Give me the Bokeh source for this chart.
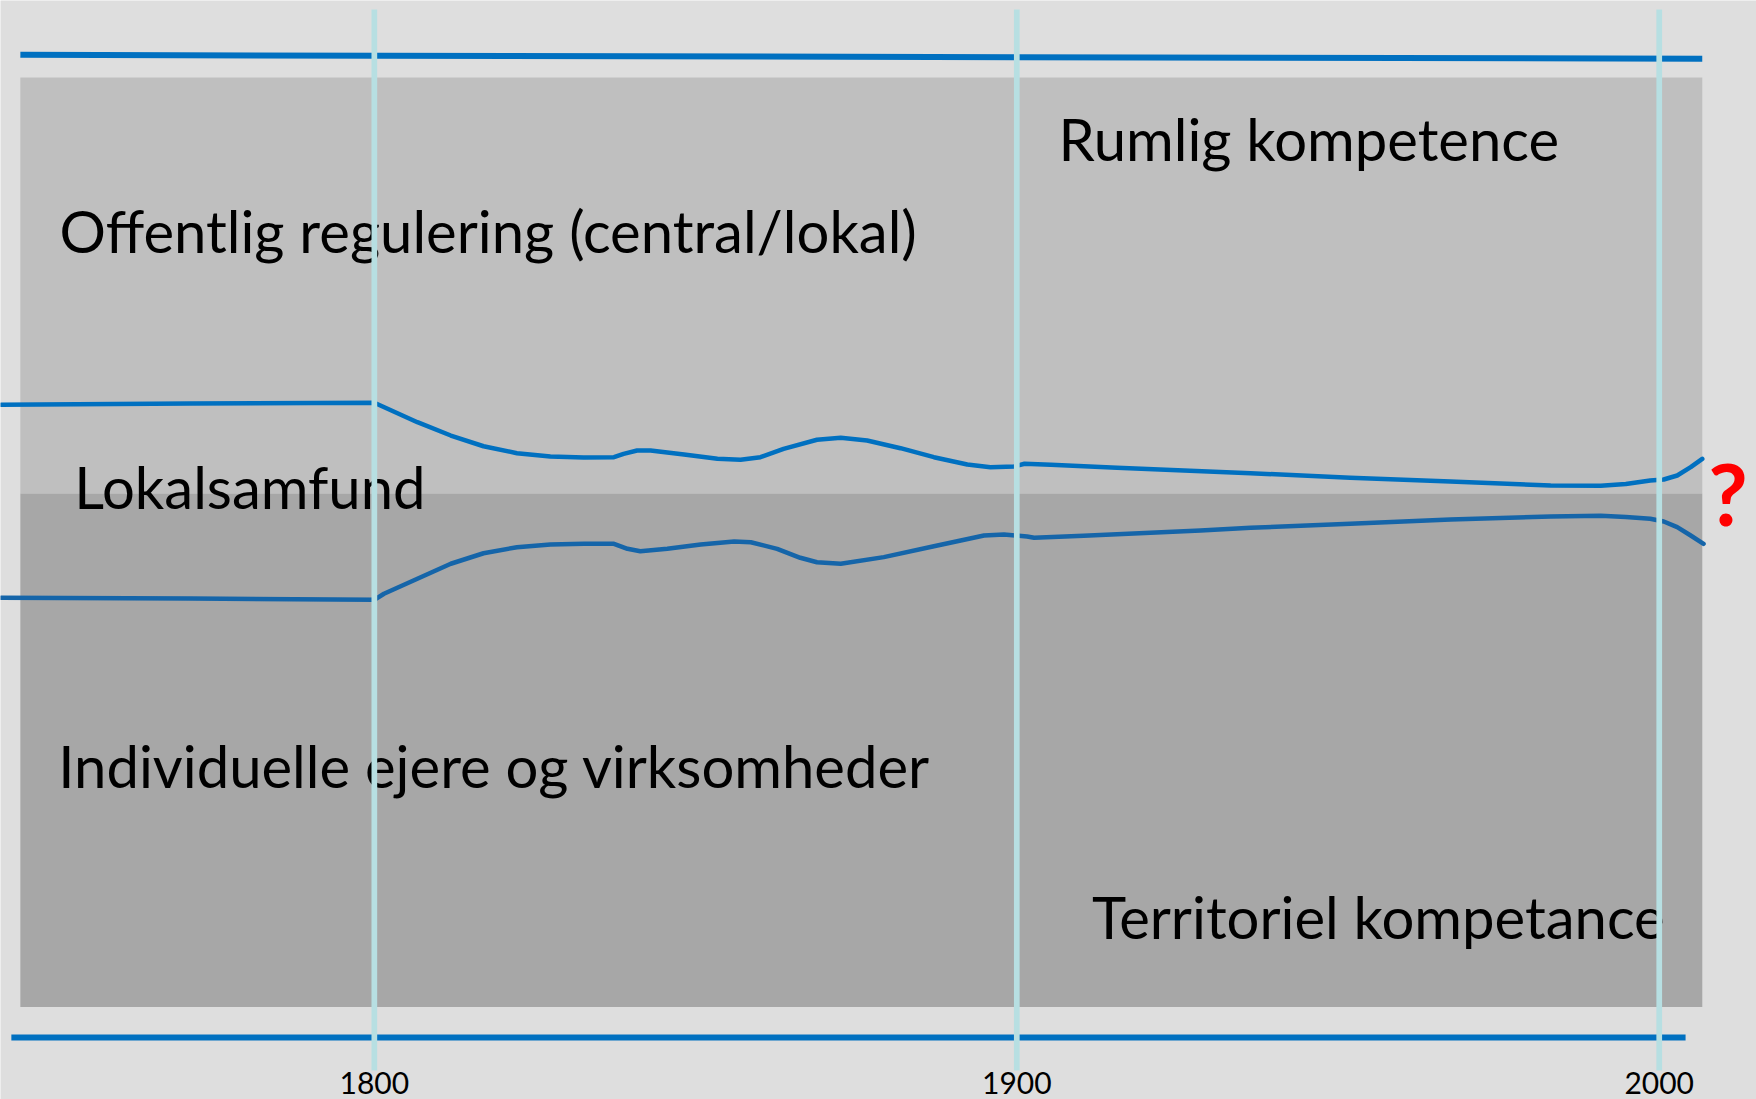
from bokeh.plotting import figure
from bokeh.models import ColumnDataSource, Range1d, LinearAxis, FixedTicker
from bokeh.core.properties import value
from bokeh.embed import file_html
from bokeh.resources import INLINE

# ---------------- data ----------------
tick_years = [1800, 1900, 2000]
tick_labels = ["1800", "1900", "2000"]

# shaded bands (x extent in years, y in share units 0-100)
band_x0 = [1744.9, 1744.9]
band_x1 = [2006.7, 2006.7]
band_top = [93.63, 55.22]
band_bottom = [55.22, 7.80]

# frame lines at top and bottom
top_line_x = [1744.9, 2006.7]
top_line_y = [95.72, 95.36]
bottom_line_x = [1743.5, 2004.1]
bottom_line_y = [4.99, 4.99]

# upper boundary (public regulation vs. local community)
upper_years = [1741.9, 1771.4, 1800.0, 1806.7, 1811.9, 1817.0, 1822.2, 1827.4,
               1832.6, 1837.3, 1838.8, 1840.9, 1843.0, 1848.2, 1853.4, 1857.0,
               1860.1, 1863.7, 1868.9, 1872.6, 1876.7, 1881.9, 1887.1, 1892.3,
               1895.9, 1899.6, 1901.2, 1905.3, 1915.6, 1936.4, 1951.9, 1967.5,
               1983.1, 1990.9, 1994.8, 1998.6, 2000.7, 2002.8, 2004.9, 2006.7]
upper_vals = [63.41, 63.53, 63.60, 61.80, 60.57, 59.58, 58.94, 58.63,
              58.54, 58.57, 58.88, 59.19, 59.19, 58.82, 58.42, 58.33,
              58.57, 59.34, 60.18, 60.36, 60.11, 59.40, 58.57, 57.89,
              57.65, 57.71, 57.96, 57.87, 57.59, 57.09, 56.67, 56.33,
              55.96, 55.93, 56.09, 56.42, 56.51, 56.88, 57.65, 58.42]

# lower boundary (local community vs. individual owners)
lower_years = [1741.9, 1771.4, 1800.0, 1801.5, 1806.7, 1811.9, 1817.0, 1822.2,
               1827.4, 1832.6, 1837.3, 1839.4, 1841.4, 1845.6, 1850.8, 1856.0,
               1858.6, 1862.7, 1866.3, 1868.9, 1872.6, 1879.3, 1887.1, 1894.9,
               1898.0, 1901.6, 1902.7, 1910.4, 1920.8, 1928.6, 1936.4, 1951.9,
               1967.5, 1983.1, 1990.9, 1994.8, 1998.6, 2000.7, 2002.8, 2004.9,
               2006.9]
lower_vals = [45.59, 45.52, 45.40, 45.96, 47.34, 48.73, 49.70, 50.26,
              50.51, 50.57, 50.57, 50.11, 49.89, 50.11, 50.51, 50.78,
              50.72, 50.11, 49.28, 48.87, 48.73, 49.34, 50.35, 51.34,
              51.43, 51.25, 51.13, 51.31, 51.59, 51.80, 52.05, 52.42,
              52.82, 53.09, 53.16, 53.05, 52.88, 52.63, 52.11, 51.34,
              50.57]

# annotations
labels = ["Offentlig regulering (central/lokal)", "Rumlig kompetence",
          "Lokalsamfund", "Individuelle ejere og virksomheder",
          "Territoriel kompetance"]
label_x = [1751.0, 1906.5, 1753.3, 1750.8, 1911.7]
label_y = [79.50, 88.00, 55.84, 30.10, 16.13]

question = ["?"]
question_x = [2010.7]
question_y = [55.31]

# ---------------- figure ----------------
p = figure(width=1756, height=1099, output_backend="svg", toolbar_location=None,
           x_range=Range1d(1741.81, 2015.14), y_range=Range1d(-0.739, 100.739),
           x_axis_location=None, y_axis_location=None, min_border=0)
p.background_fill_color = "#dedede"
p.border_fill_color = "#dedede"
p.outline_line_color = None
p.grid.visible = False

p.quad(left=band_x0, right=band_x1, top=band_top, bottom=band_bottom,
       fill_color=["#bfbfbf", "#a7a7a7"], line_color=None)

p.line(top_line_x, top_line_y, line_color="#0070c0", line_width=6)
p.line(bottom_line_x, bottom_line_y, line_color="#0070c0", line_width=6)

p.line(upper_years, upper_vals, line_color="#0070c0", line_width=4.5,
       line_join="round", line_cap="round")
p.line(lower_years, lower_vals, line_color="#1565a9", line_width=4.5,
       line_join="round", line_cap="round")

src = ColumnDataSource(dict(x=label_x, y=label_y, text=labels))
p.text(x="x", y="y", text="text", source=src, text_font=value("Lato"),
       text_font_size=value("58px"), text_color="black",
       text_align="left", text_baseline="alphabetic")

qsrc = ColumnDataSource(dict(x=question_x, y=question_y, text=question))
p.text(x="x", y="y", text="text", source=qsrc, text_font=value("Lato"),
       text_font_size=value("86px"), text_font_style="bold",
       text_color="#ff0000", text_align="center", text_baseline="alphabetic")

vsrc = ColumnDataSource(dict(x=tick_years, y0=[1.94] * 3, y1=[99.91] * 3))
p.segment(x0="x", y0="y0", x1="x", y1="y1", source=vsrc,
          line_color="#b7dfe2", line_width=5.7)

xaxis = LinearAxis(ticker=FixedTicker(ticks=tick_years),
                   major_label_overrides={y: t for y, t in zip(tick_years, tick_labels)})
xaxis.fixed_location = 2.31
xaxis.axis_line_color = None
xaxis.major_tick_line_color = None
xaxis.minor_tick_line_color = None
xaxis.major_label_standoff = 0
xaxis.major_label_text_font = "Lato"
xaxis.major_label_text_font_size = "30px"
xaxis.major_label_text_color = "black"
p.add_layout(xaxis, "below")

open("out.html", "w").write(file_html(p, INLINE))
